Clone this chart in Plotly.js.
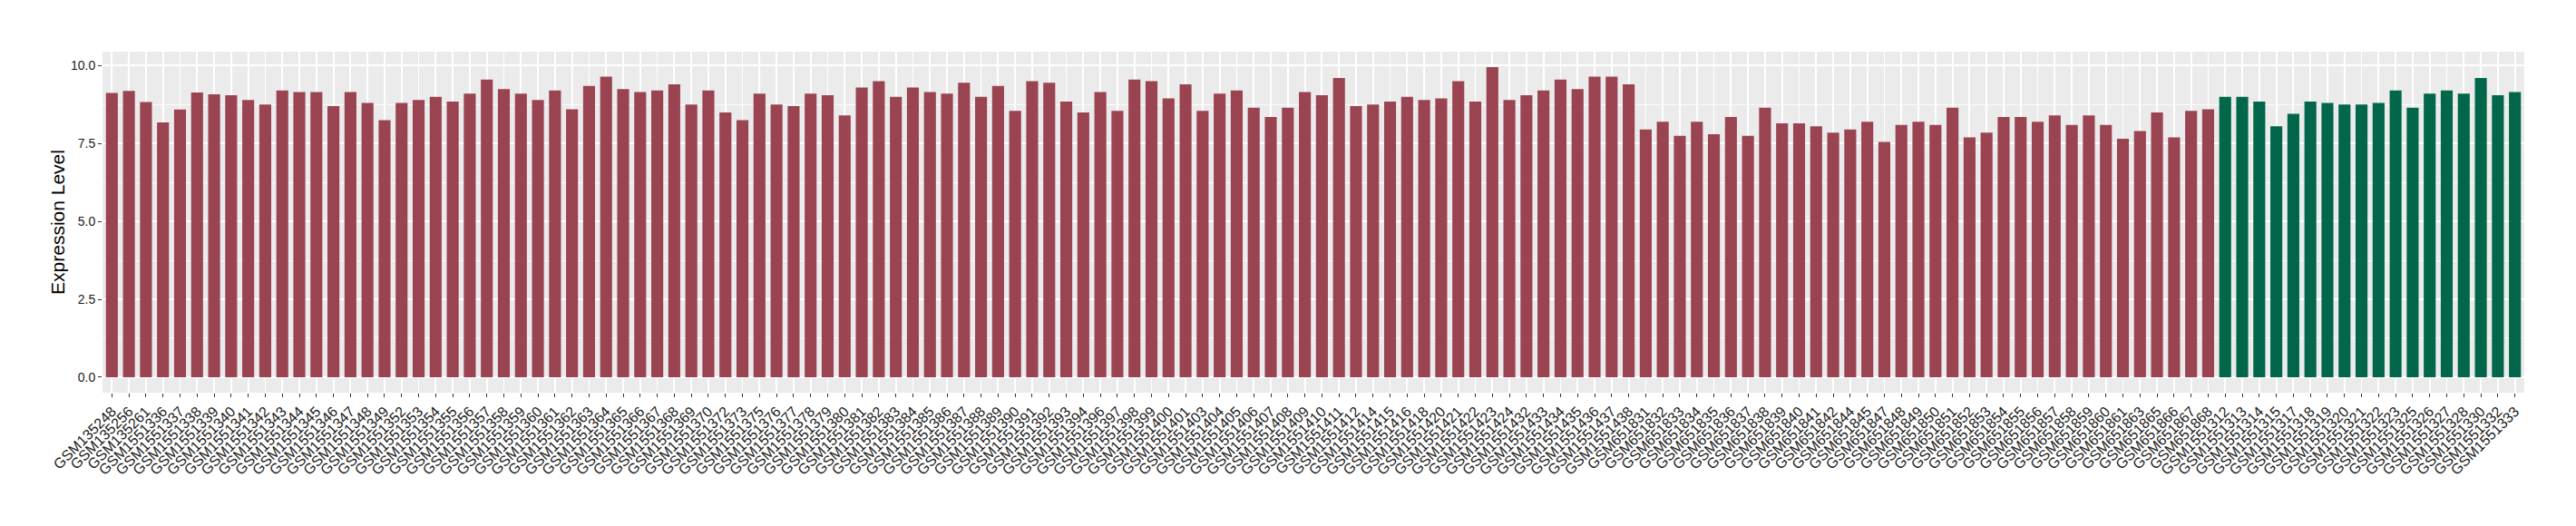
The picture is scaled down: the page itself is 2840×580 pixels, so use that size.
<!DOCTYPE html>
<html>
<head>
<meta charset="utf-8">
<script src="https://cdn.plot.ly/plotly-3.0.1.min.js"></script>
<style>html,body{margin:0;padding:0;background:#fff;}#chart{width:2840px;height:580px;}</style>
</head>
<body>
<div id="chart"></div>
<script>
const samples = [
"GSM135248","GSM135256","GSM135261","GSM1551336","GSM1551337","GSM1551338","GSM1551339","GSM1551340","GSM1551341","GSM1551342",
"GSM1551343","GSM1551344","GSM1551345","GSM1551346","GSM1551347","GSM1551348","GSM1551349","GSM1551352","GSM1551353","GSM1551354",
"GSM1551355","GSM1551356","GSM1551357","GSM1551358","GSM1551359","GSM1551360","GSM1551361","GSM1551362","GSM1551363","GSM1551364",
"GSM1551365","GSM1551366","GSM1551367","GSM1551368","GSM1551369","GSM1551370","GSM1551372","GSM1551373","GSM1551375","GSM1551376",
"GSM1551377","GSM1551378","GSM1551379","GSM1551380","GSM1551381","GSM1551382","GSM1551383","GSM1551384","GSM1551385","GSM1551386",
"GSM1551387","GSM1551388","GSM1551389","GSM1551390","GSM1551391","GSM1551392","GSM1551393","GSM1551394","GSM1551396","GSM1551397",
"GSM1551398","GSM1551399","GSM1551400","GSM1551401","GSM1551403","GSM1551404","GSM1551405","GSM1551406","GSM1551407","GSM1551408",
"GSM1551409","GSM1551410","GSM1551411","GSM1551412","GSM1551414","GSM1551415","GSM1551416","GSM1551418","GSM1551420","GSM1551421",
"GSM1551422","GSM1551423","GSM1551424","GSM1551432","GSM1551433","GSM1551434","GSM1551435","GSM1551436","GSM1551437","GSM1551438",
"GSM651831","GSM651832","GSM651833","GSM651834","GSM651835","GSM651836","GSM651837","GSM651838","GSM651839","GSM651840",
"GSM651841","GSM651842","GSM651844","GSM651845","GSM651847","GSM651848","GSM651849","GSM651850","GSM651851","GSM651852",
"GSM651853","GSM651854","GSM651855","GSM651856","GSM651857","GSM651858","GSM651859","GSM651860","GSM651861","GSM651863",
"GSM651865","GSM651866","GSM651867","GSM651868",
"GSM1551312","GSM1551313","GSM1551314","GSM1551315","GSM1551317","GSM1551318","GSM1551319","GSM1551320","GSM1551321","GSM1551322",
"GSM1551323","GSM1551325","GSM1551326","GSM1551327","GSM1551328","GSM1551330","GSM1551332","GSM1551333"
];
const values = [
9.12,9.19,8.83,8.18,8.59,9.14,9.08,9.05,8.9,8.75,
9.2,9.15,9.15,8.7,9.15,8.8,8.25,8.8,8.9,9.0,
8.85,9.1,9.55,9.25,9.1,8.9,9.2,8.6,9.35,9.65,
9.25,9.15,9.2,9.4,8.75,9.2,8.5,8.25,9.1,8.75,
8.7,9.1,9.05,8.4,9.3,9.5,9.0,9.3,9.15,9.1,
9.45,9.0,9.35,8.55,9.5,9.45,8.85,8.5,9.15,8.55,
9.55,9.5,8.95,9.4,8.55,9.1,9.2,8.65,8.35,8.65,
9.15,9.05,9.6,8.7,8.75,8.85,9.0,8.9,8.95,9.5,
8.85,9.95,8.9,9.05,9.2,9.55,9.25,9.65,9.65,9.4,
7.95,8.2,7.75,8.2,7.8,8.35,7.75,8.65,8.15,8.15,
8.05,7.85,7.95,8.2,7.55,8.1,8.2,8.1,8.65,7.7,
7.85,8.35,8.35,8.2,8.4,8.1,8.4,8.1,7.65,7.9,
8.5,7.7,8.55,8.6,
9.0,9.0,8.85,8.05,8.45,8.85,8.8,8.75,8.75,8.8,
9.2,8.65,9.1,9.2,9.1,9.6,9.05,9.15
];
const groups = [];
for (let i = 0; i < samples.length; i++) groups.push(i < 124 ? "A" : "B");
const groupColors = {A: "#9A4452", B: "#02674A"};
const yTicks = [0, 2.5, 5, 7.5, 10];
const yTickText = ["0.0", "2.5", "5.0", "7.5", "10.0"];

const trace = {
  type: "bar",
  x: samples,
  y: values,
  marker: {color: groups.map(g => groupColors[g]), line: {width: 0}},
  width: 0.7,
  hoverinfo: "x+y",
  showlegend: false
};

const vmax = Math.max(...values);
const layout = {
  width: 2840, height: 580,
  margin: {l: 113, r: 57, t: 57, b: 147, pad: 0},
  paper_bgcolor: "#ffffff",
  plot_bgcolor: "#EBEBEB",
  font: {family: "Liberation Sans, Arial, sans-serif", color: "#1a1a1a", size: 14},
  bargap: 0.3,
  xaxis: {
    type: "category",
    range: [-0.55, samples.length - 0.45],
    tickmode: "array",
    tickvals: samples,
    ticktext: samples,
    tickangle: -45,
    tickfont: {size: 16, color: "#1a1a1a"},
    showgrid: true, gridcolor: "#ffffff", gridwidth: 1.8,
    ticks: "outside", ticklen: 4, tickwidth: 1, tickcolor: "#333333",
    zeroline: false, showline: false, automargin: false
  },
  yaxis: {
    range: [-0.05 * vmax, vmax * 1.05],
    tickvals: yTicks, ticktext: yTickText,
    tickfont: {size: 14, color: "#1a1a1a"},
    showgrid: true, gridcolor: "#ffffff", gridwidth: 1.8,
    minor: {dtick: 1.25, tick0: 0, showgrid: true, gridcolor: "#ffffff", gridwidth: 0.8},
    ticks: "outside", ticklen: 4, tickwidth: 1, tickcolor: "#333333",
    zeroline: false, showline: false, automargin: false,
    title: {text: "Expression Level", font: {size: 21, color: "#000000"}, standoff: 0}
  }
};

Plotly.newPlot("chart", [trace], layout, {displayModeBar: false, staticPlot: true});
</script>
</body>
</html>
